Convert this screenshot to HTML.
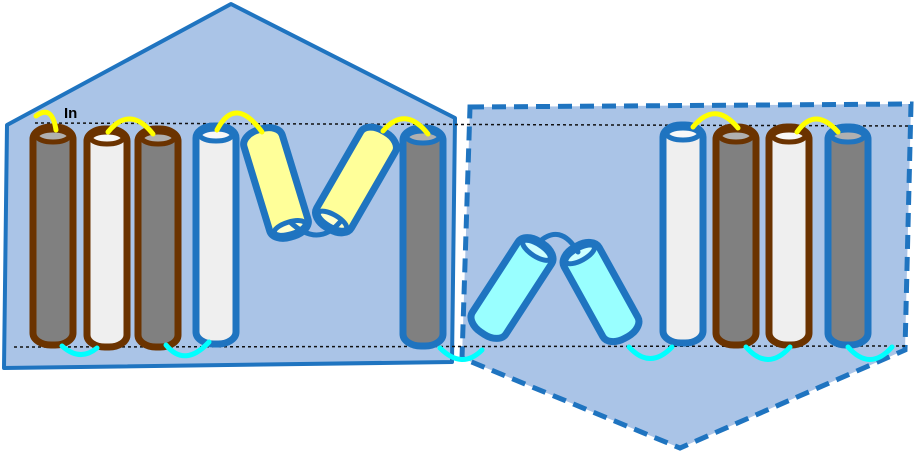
<!DOCTYPE html>
<html><head><meta charset="utf-8"><style>
html,body{margin:0;padding:0;background:#fff;}
svg{display:block;}
</style></head><body>
<svg id="d" width="916" height="451" viewBox="0 0 916 451">
<polygon points="7,125 231,4 455,118 452,362 4,368" fill="#aac4e7" stroke="#1f74c0" stroke-width="4" stroke-linejoin="round"/>
<polygon points="470,107 911,104 905,350 680,448 462,358" fill="#aac4e7" stroke="#1f74c0" stroke-width="5" stroke-dasharray="14,8"/>
<line x1="35" y1="123" x2="910" y2="126" stroke="#111" stroke-width="1.5" stroke-dasharray="3,3"/>
<line x1="14" y1="347" x2="905" y2="346" stroke="#111" stroke-width="1.5" stroke-dasharray="3,3"/>
<text x="64" y="118" font-family="Liberation Sans, sans-serif" font-size="15" font-weight="bold" fill="#000">In</text>
<g id="loops" fill="none" stroke-width="5" stroke-linecap="round">
<path d="M36,116 Q52,104 56,130" stroke="#ffff00"/>
<path d="M108,132 Q130,105 153,134" stroke="#ffff00"/>
<path d="M217,130 Q235,95 262,132" stroke="#ffff00"/>
<path d="M383,131 Q405,105 428,134" stroke="#ffff00"/>
<path d="M693,127 Q715,100 738,128" stroke="#ffff00"/>
<path d="M797,132 Q815,106 838,132" stroke="#ffff00"/>
<path d="M62,346 Q80,362 97,348" stroke="#00ffff"/>
<path d="M166,345 Q185,368 209,342" stroke="#00ffff"/>
<path d="M440,348 Q462,370 482,350" stroke="#00ffff"/>
<path d="M629,347 Q650,370 672,347" stroke="#00ffff"/>
<path d="M746,347 Q768,372 790,347" stroke="#00ffff"/>
<path d="M848,347 Q870,372 892,347" stroke="#00ffff"/>
<path d="M290,222 Q318,248 340,222" stroke="#1f74c0"/>
<path d="M538,243 Q560,222 578,252" stroke="#1f74c0"/>
</g>
</svg>
<script>
var NS="http://www.w3.org/2000/svg";
var svg=document.getElementById('d');
var BROWN="#6b3300",BLUE="#1f74c0",GRAY="#808080",WHITE="#efefef",YEL="#ffff99",CYAN="#99ffff";
function cyl(name,cx,cy,len,ang,stroke,fill,cap,capTop){
  var g=document.createElementNS(NS,'g');
  
  
  g.setAttribute('transform','translate('+cx+','+cy+') rotate('+ang+')');
  var r=document.createElementNS(NS,'rect');
  r.setAttribute('x',-20);r.setAttribute('y',-len/2);r.setAttribute('width',40);r.setAttribute('height',len);
  r.setAttribute('rx',18);r.setAttribute('ry',12);
  r.setAttribute('fill',fill);r.setAttribute('stroke',stroke);r.setAttribute('stroke-width',7);
  g.appendChild(r);
  var e=document.createElementNS(NS,'ellipse');
  e.setAttribute('cx',0);e.setAttribute('cy',capTop?(-len/2+9):(len/2-9));
  e.setAttribute('rx',16);e.setAttribute('ry',6);
  e.setAttribute('fill',cap);e.setAttribute('stroke',stroke);e.setAttribute('stroke-width',5);
  g.appendChild(e);
  svg.insertBefore(g,document.getElementById('loops'));
}
cyl('helix-1',53,236,218,0,BROWN,GRAY,"#b0b0b0",true);
cyl('helix-2',107,238,218,0,BROWN,WHITE,"#f8f8f8",true);
cyl('helix-3',158,238,218,0,BROWN,GRAY,"#b0b0b0",true);
cyl('helix-4',216,235,218,0,BLUE,WHITE,"#f8f8f8",true);
cyl('helix-5',276,183,112,-17,BLUE,YEL,"#ffffcc",false);
cyl('helix-6',356,180,112,30,BLUE,YEL,"#ffffcc",false);
cyl('helix-7',423,237,218,0,BLUE,GRAY,"#b0b0b0",true);
cyl('helix-8',512,288,108,33,BLUE,CYAN,"#ccffff",true);
cyl('helix-9',601,292,104,-29,BLUE,CYAN,"#ccffff",true);
cyl('helix-10',683,234,218,0,BLUE,WHITE,"#f8f8f8",true);
cyl('helix-11',736,236,218,0,BROWN,GRAY,"#b0b0b0",true);
cyl('helix-12',789,236,218,0,BROWN,WHITE,"#f8f8f8",true);
cyl('helix-13',848,236,218,0,BLUE,GRAY,"#b0b0b0",true);
</script>
</body></html>
